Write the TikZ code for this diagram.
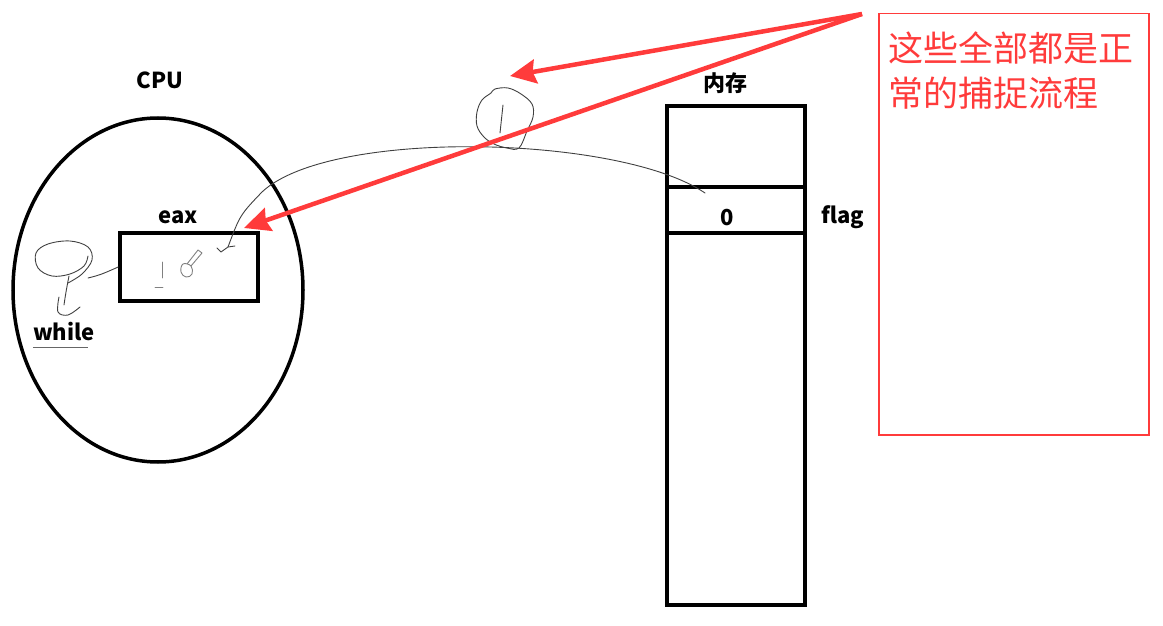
\documentclass[tikz,border=0pt]{standalone}
\usepackage{fontspec}
\setmainfont{Noto Sans CJK SC}
\usetikzlibrary{arrows.meta,positioning,shapes.geometric}
\definecolor{notered}{HTML}{FF3B3B}

\begin{document}
\begin{tikzpicture}[x=1pt, y=-1pt,
    lbl/.style={font=\fontsize{22}{26}\selectfont\bfseries, inner sep=0pt},
    cell/.style={draw, line width=3.5pt, minimum width=138, inner sep=0pt, outer sep=0pt, anchor=north},
    ink/.style={draw=black!75, line width=0.9pt, line cap=round, line join=round},
    faint/.style={draw=black!50, line width=0.9pt, line cap=round, line join=round},
    redarr/.style={draw=notered, line width=4.5pt, -{Stealth[length=26pt, width=24pt, inset=3pt]}},
]
\useasboundingbox (0,0) rectangle (1163,626);

% CPU side
\node[ellipse, draw, line width=3.5pt, minimum width=290, minimum height=344] (cpu) at (158,290) {};
\node[lbl] (cpulbl) at (160,80) {CPU};
\node[draw, line width=3.5pt, minimum width=138, minimum height=68] (eax) at (189,267) {};
\node[lbl] (eaxlbl) at (178,217) {eax};
\node[lbl] (while) at (64,332) {while};
\draw[black!60, line width=1pt] (while.south west) ++(0,6) -- ++(55,0);

% memory column
\node[lbl] (memlbl) at (725,83) {内存};
\node[cell, minimum height=81] (mtop) at (736,106) {};
\node[cell, minimum height=46] (mflag) at (mtop.south) {};
\node[cell, minimum height=372] (mrest) at (mflag.south) {};
\node[lbl] (zero) at (727,218) {0};
\node[lbl] (flag) at (843,217) {flag};

% note box
\node[draw=notered, line width=1.5pt, minimum width=270, minimum height=421,
      anchor=north west] (note) at (878,13) {};
\node[anchor=north west, inner sep=0pt, text=notered, align=left,
      font=\fontsize{35}{45}\selectfont] (notetxt) at (888,32)
    {这些全部都是正\\常的捕捉流程};

% hand-drawn read of flag into eax
\coordinate (inkstart) at (705,193);
\coordinate (inkend) at (228,247);
\draw[ink] (inkstart) .. controls (620,135) and (330,128) .. (262,192)
    .. controls (240,215) .. (inkend) -- (221,252) -- (217,248);
\draw[ink] (inkend) -- (235,246);
\draw[ink] plot[smooth cycle, tension=0.6] coordinates {(495,89) (508,88) (521,94) (532,104)
    (533,117) (527,131) (519,148) (507,148) (494,144) (484,137) (477,126) (477,112)
    (482,100) (491,93)};
\draw[ink] (503,105) -- (500,133);

% while loop scribble
\draw[ink] plot[smooth, tension=0.6] coordinates {(68,283) (82,274) (92,260) (88,247)
    (70,241) (48,244) (36,253) (38,268) (52,276) (70,274) (84,266) (88,256)};
\draw[ink] plot[smooth, tension=0.6] coordinates {(69,276) (66,292) (64,305)};
\draw[ink] plot[smooth, tension=0.6] coordinates {(59,297) (58,312) (68,315) (80,307)};
\draw[ink] (88,278) .. controls (100,275) .. (eax.west);

% scribbles in eax
\draw[faint] (162,262) -- (162,278);
\draw[faint] (155,287) -- (163,287);
\draw[faint] plot[smooth cycle, tension=0.7] coordinates {(183,264) (191,266) (192,274) (186,277) (181,272)};
\draw[faint] (187,264) -- (198,250) -- (202,253) -- (191,266);

% red arrows
\coordinate (tail) at (862,14);
\draw[redarr] (tail) -- (510,76);
\draw[redarr] (tail) -- (244,228);
\end{tikzpicture}
\end{document}
